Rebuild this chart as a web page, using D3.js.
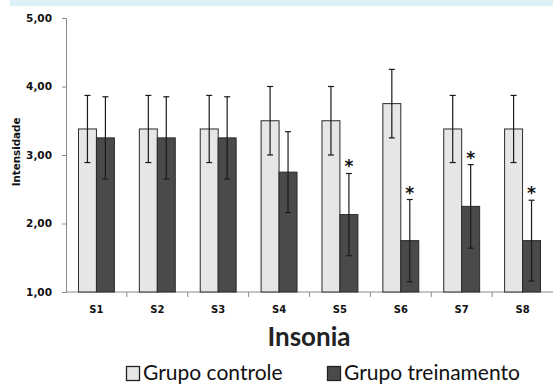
<!DOCTYPE html>
<html>
<head>
<meta charset="utf-8">
<script src="https://cdn.jsdelivr.net/npm/d3@7"></script>
<style>
  body { margin: 0; background: #fff; }
  svg { display: block; }
</style>
</head>
<body>
<div id="app"></div>
<script>
const sessions = ["S1", "S2", "S3", "S4", "S5", "S6", "S7", "S8"];
const groups = ["Grupo controle", "Grupo treinamento"];
const controle = [3.38, 3.38, 3.38, 3.50, 3.50, 3.75, 3.38, 3.38];
const controleSd = [0.49, 0.49, 0.49, 0.50, 0.50, 0.50, 0.49, 0.49];
const treino = [3.25, 3.25, 3.25, 2.75, 2.13, 1.75, 2.25, 1.75];
const treinoSd = [0.60, 0.60, 0.60, 0.59, 0.60, 0.60, 0.61, 0.59];
const signif = [false, false, false, false, true, true, true, true];
const yTicks = [1, 2, 3, 4, 5];

const width = 553, height = 384;
const colors = ["#e6e6e6", "#4a4a4a"];

const svg = d3.select("#app").append("svg")
    .attr("width", width)
    .attr("height", height);

// faixa azul no topo
svg.append("rect")
    .attr("x", 10).attr("y", 0)
    .attr("width", width - 10).attr("height", 6)
    .attr("fill", "#def0f8");

const x = d3.scaleBand()
    .domain(sessions)
    .range([66, 553])
    .paddingInner(0.41)
    .paddingOuter(0.205);

const x1 = d3.scaleBand()
    .domain(groups)
    .range([0, x.bandwidth()]);

const y = d3.scaleLinear()
    .domain([1, 5])
    .range([292, 18]);

// eixo y
const yAxis = svg.append("g")
    .attr("transform", "translate(66,0)")
    .call(d3.axisLeft(y)
      .tickValues(yTicks)
      .tickSize(4)
      .tickPadding(10)
      .tickFormat(d => d3.format(".2f")(d).replace(".", ",")));
yAxis.select(".domain").attr("stroke", "#8a8a8a");
yAxis.selectAll(".tick line").attr("stroke", "#8a8a8a");
yAxis.selectAll("text")
    .attr("font-family", "DejaVu Sans, Verdana, sans-serif")
    .attr("font-weight", "bold")
    .attr("font-size", 10.5)
    .attr("fill", "#111");

// eixo x
const xAxis = svg.append("g")
    .attr("transform", "translate(0,292)")
    .call(d3.axisBottom(x).tickSize(0).tickPadding(14));
xAxis.select(".domain").attr("stroke", "#8a8a8a").attr("d", "M66,0H553");
xAxis.selectAll("text")
    .attr("font-family", "DejaVu Sans, Verdana, sans-serif")
    .attr("font-weight", "bold")
    .attr("font-size", 10)
    .attr("fill", "#111");
xAxis.selectAll(".bound")
  .data(sessions.slice(1))
  .join("line")
    .attr("class", "bound")
    .attr("x1", d => x(d) - x.step() * x.paddingInner() / 2)
    .attr("x2", d => x(d) - x.step() * x.paddingInner() / 2)
    .attr("y1", 0).attr("y2", 5)
    .attr("stroke", "#8a8a8a");

const rows = sessions.map((s, i) => ({
  s,
  vals: [
    {g: groups[0], v: controle[i], sd: controleSd[i], star: false},
    {g: groups[1], v: treino[i], sd: treinoSd[i], star: signif[i]}
  ]
}));

const grp = svg.append("g")
  .selectAll("g")
  .data(rows)
  .join("g")
    .attr("transform", d => `translate(${x(d.s)},0)`);

grp.selectAll("rect")
  .data(d => d.vals)
  .join("rect")
    .attr("x", d => x1(d.g))
    .attr("y", d => y(d.v))
    .attr("width", x1.bandwidth())
    .attr("height", d => y(1) - y(d.v))
    .attr("fill", (d, i) => colors[i])
    .attr("stroke", "#2a2a2a")
    .attr("stroke-width", 1);

// barras de erro
const err = grp.selectAll("g.err")
  .data(d => d.vals)
  .join("g")
    .attr("class", "err")
    .attr("transform", d => `translate(${x1(d.g) + x1.bandwidth() / 2},0)`)
    .attr("stroke", "#1a1a1a")
    .attr("stroke-width", 1.2);
err.append("line")
    .attr("y1", d => y(d.v + d.sd))
    .attr("y2", d => y(d.v - d.sd));
err.append("line")
    .attr("x1", -3).attr("x2", 3)
    .attr("y1", d => y(d.v + d.sd)).attr("y2", d => y(d.v + d.sd));
err.append("line")
    .attr("x1", -3).attr("x2", 3)
    .attr("y1", d => y(d.v - d.sd)).attr("y2", d => y(d.v - d.sd));

err.filter(d => d.star)
  .append("text")
    .attr("stroke", "none")
    .attr("fill", "#111")
    .attr("text-anchor", "middle")
    .attr("font-family", "DejaVu Sans, sans-serif")
    .attr("font-weight", "bold")
    .attr("font-size", 17)
    .attr("y", d => y(d.v + d.sd) - 1)
    .text("*");

// títulos
svg.append("text")
    .attr("transform", "translate(20,152) rotate(-90)")
    .attr("text-anchor", "middle")
    .attr("font-family", "DejaVu Sans, Verdana, sans-serif")
    .attr("font-weight", "bold")
    .attr("font-size", 10.3)
    .attr("fill", "#111")
    .text("Intensidade");

svg.append("text")
    .attr("x", 309).attr("y", 346)
    .attr("text-anchor", "middle")
    .attr("font-family", "Lato, 'Open Sans', sans-serif")
    .attr("font-weight", "bold")
    .attr("font-size", 26)
    .attr("fill", "#222")
    .text("Insonia");

// legenda
const legX = [126, 327];
const leg = svg.append("g")
  .selectAll("g")
  .data(groups)
  .join("g")
    .attr("transform", (d, i) => `translate(${legX[i]},366)`);
leg.append("rect")
    .attr("x", 0.5).attr("y", 0.5)
    .attr("width", 13).attr("height", 14)
    .attr("fill", (d, i) => colors[i])
    .attr("stroke", "#222")
    .attr("stroke-width", 1.3);
leg.append("text")
    .attr("x", 17).attr("y", 14)
    .attr("font-family", "Lato, 'Open Sans', sans-serif")
    .attr("font-size", 21)
    .attr("fill", "#111")
    .text(d => d);
</script>
</body>
</html>
